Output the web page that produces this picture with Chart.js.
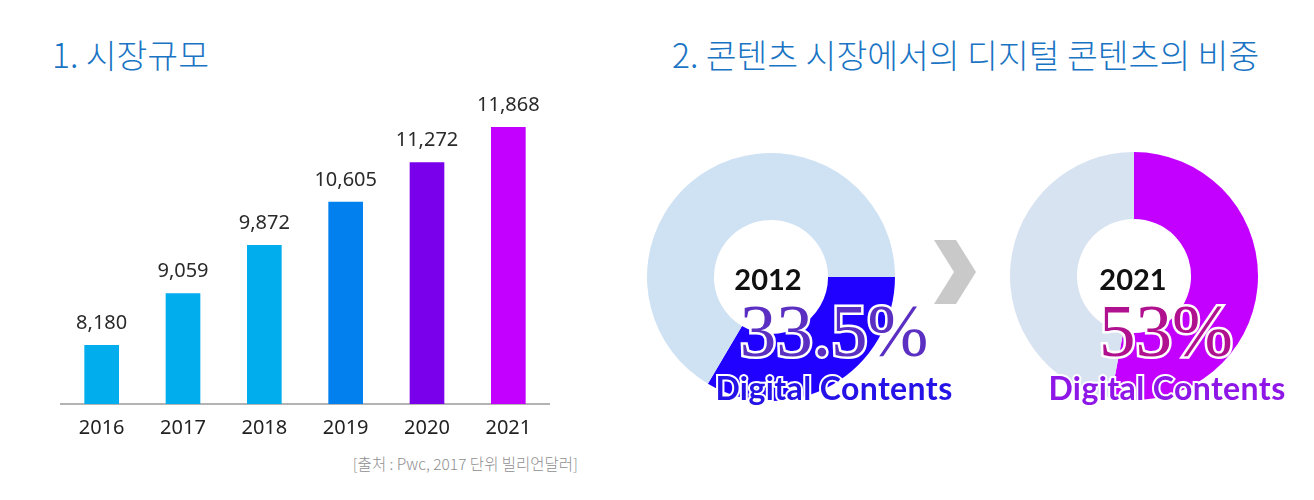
<!DOCTYPE html>
<html>
<head>
<meta charset="utf-8">
<script src="https://cdn.jsdelivr.net/npm/chart.js@4"></script>
<style>
  html, body { margin: 0; padding: 0; background: #ffffff; }
  #page { position: relative; width: 1314px; height: 500px; overflow: hidden; background: #fff; }
  .abs { position: absolute; }
  .title { font-family: "Noto Sans CJK KR", "Noto Sans", sans-serif; font-size: 33.5px; font-weight: 300; color: #1a74c4; white-space: nowrap; line-height: 1; }
  .note { font-family: "Noto Sans CJK KR", "Noto Sans", sans-serif; font-size: 15.5px; font-weight: 300; color: #8f8f8f; white-space: nowrap; line-height: 1; }
  .year { font-family: "Lato", "Noto Sans", sans-serif; font-weight: 700; font-size: 29px; color: #111; white-space: nowrap; line-height: 1; transform: translate(-50%, -50%); }
  .pct { font-family: "Liberation Serif", serif; font-size: 73px; white-space: nowrap; line-height: 1;
         -webkit-text-stroke: 5px #fff; paint-order: stroke fill; transform: translate(-50%, -50%); }
  .dc { font-family: "Lato", sans-serif; font-weight: 700; font-size: 32px; white-space: nowrap; line-height: 1;
        -webkit-text-stroke: 4px #fff; paint-order: stroke fill; transform: translate(-50%, -50%); letter-spacing: 0.4px; }
</style>
</head>
<body>
<div id="page">
  <div class="abs title" id="t1" style="left:52px; top:37px;"></div>
  <div class="abs title" id="t2" style="left:672px; top:37px;"></div>

  <div class="abs" style="left:40px; top:90px;"><canvas id="bar" width="520" height="362"></canvas></div>
  <div class="abs note" id="note" style="right:736px; top:456px;"></div>

  <div class="abs" style="left:647px; top:153px;"><canvas id="d1" width="248" height="248"></canvas></div>
  <div class="abs" style="left:1010px; top:152px;"><canvas id="d2" width="248" height="248"></canvas></div>

  <svg class="abs" style="left:930px; top:236px;" width="52" height="72">
    <polygon points="4,4 26,4 46,36 26,68 4,68 24,36" fill="#c9c9c9"/>
  </svg>

  <div class="abs year" id="y1" style="left:768px; top:278px;"></div>
  <div class="abs year" id="y2" style="left:1133px; top:278px;"></div>
  <div class="abs pct" id="p1" style="left:834px; top:331px; color:#5a2fc2;"></div>
  <div class="abs pct" id="p2" style="left:1166px; top:331px; color:#b0128f;"></div>
  <div class="abs dc" id="c1" style="left:834px; top:388px; color:#2412e6;"></div>
  <div class="abs dc" id="c2" style="left:1167px; top:388px; color:#8e16e6;"></div>
</div>
<script>
// ---- data ----
const years = ["2016", "2017", "2018", "2019", "2020", "2021"];
const marketSize = [8180, 9059, 9872, 10605, 11272, 11868];
const barColors = ["#02adee", "#02adee", "#02adee", "#0281ee", "#7a00eb", "#c300ff"];
const shareYears = ["2012", "2021"];
const digitalShare = [33.5, 53];
const shareColors = ["#2000ff", "#c300ff"];
const restColors = ["#cfe2f3", "#d8e3f1"];
const shareRotation = [90, 0];
const titles = ["1. 시장규모", "2. 콘텐츠 시장에서의 디지털 콘텐츠의 비중"];
const sourceNote = "[출처 : Pwc, 2017 단위 빌리언달러]";
const segmentLabel = "Digital Contents";

document.getElementById('t1').textContent = titles[0];
document.getElementById('t2').textContent = titles[1];
document.getElementById('note').textContent = sourceNote;
document.getElementById('y1').textContent = shareYears[0];
document.getElementById('y2').textContent = shareYears[1];
document.getElementById('p1').textContent = digitalShare[0] + "%";
document.getElementById('p2').textContent = digitalShare[1] + "%";
document.getElementById('c1').textContent = segmentLabel;
document.getElementById('c2').textContent = segmentLabel;

const fmt = v => v.toLocaleString('en-US');

const valueLabels = {
  id: 'valueLabels',
  afterDatasetsDraw(chart) {
    const ctx = chart.ctx;
    const meta = chart.getDatasetMeta(0);
    ctx.save();
    ctx.font = '20px "Noto Sans", sans-serif';
    ctx.fillStyle = '#2a2a2a';
    ctx.textAlign = 'center';
    ctx.textBaseline = 'middle';
    meta.data.forEach((bar, i) => {
      ctx.fillText(fmt(chart.data.datasets[0].data[i]), bar.x, bar.y - 22);
    });
    ctx.restore();
  }
};

new Chart(document.getElementById('bar'), {
  type: 'bar',
  data: {
    labels: years,
    datasets: [{ data: marketSize, backgroundColor: barColors, borderWidth: 0, barThickness: 34 }]
  },
  options: {
    responsive: false,
    animation: false,
    layout: { padding: { left: 21, right: 11, top: 10, bottom: 0 } },
    plugins: { legend: { display: false }, tooltip: { enabled: false } },
    scales: {
      x: {
        grid: { display: false, drawTicks: false },
        border: { display: true, color: '#b3b3b3', width: 2 },
        ticks: { color: '#222', font: { family: '"Noto Sans", sans-serif', size: 20 }, padding: 12 }
      },
      y: { display: false, min: 7190, max: 12330 }
    }
  },
  plugins: [valueLabels]
});

function makeDonut(id, idx) {
  new Chart(document.getElementById(id), {
    type: 'doughnut',
    data: {
      labels: [segmentLabel, ''],
      datasets: [{
        data: [digitalShare[idx], 100 - digitalShare[idx]],
        backgroundColor: [shareColors[idx], restColors[idx]],
        borderWidth: 0
      }]
    },
    options: {
      responsive: false,
      animation: false,
      rotation: shareRotation[idx],
      cutout: '46%',
      plugins: { legend: { display: false }, tooltip: { enabled: false } }
    }
  });
}
makeDonut('d1', 0);
makeDonut('d2', 1);
</script>
</body>
</html>
